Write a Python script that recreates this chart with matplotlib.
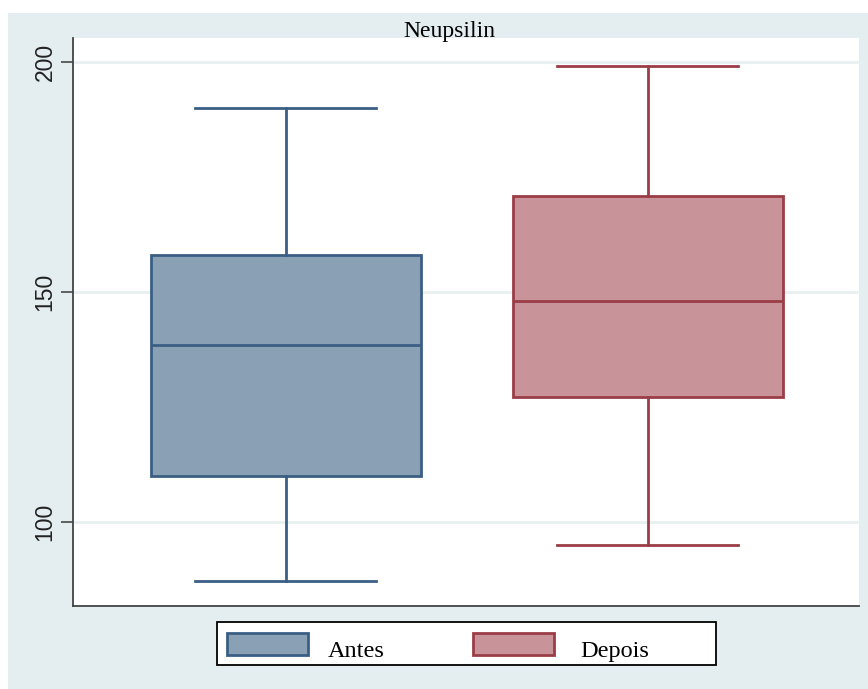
import matplotlib
matplotlib.use('Agg')
import matplotlib.pyplot as plt
from matplotlib.patches import Rectangle

# Neupsilin scores before / after (box summary values)
groups = ['Antes', 'Depois']
whislo = [87.0, 95.0]
q1 = [110.0, 127.0]
med = [138.5, 148.0]
q3 = [158.0, 170.8]
whishi = [190.0, 199.0]
yticks = [100, 150, 200]

fills = ['#8aa0b4', '#c8949a']
edges = ['#3b5f84', '#9b3d48']

W, H = 868, 689


def fx(px):
    return px / W


def fy(py):
    return 1 - py / H


fig = plt.figure(figsize=(8.68, 6.89), dpi=100)
fig.patch.set_facecolor('white')
# light background panel behind the plot
fig.patches.append(Rectangle((fx(8), 0), 1, fy(13), transform=fig.transFigure,
                             facecolor='#e4edef', edgecolor='none', zorder=-10))

ax = fig.add_axes([0.0845, 0.1205, 0.9055, 0.8243])
ax.set_facecolor('white')

stats = []
for i, g in enumerate(groups):
    stats.append(dict(label=g, whislo=whislo[i], q1=q1[i], med=med[i], q3=q3[i],
                      whishi=whishi[i], fliers=[]))

bp = ax.bxp(stats, positions=[1, 2], widths=0.746, patch_artist=True,
            showfliers=False, manage_ticks=False)
for i in range(2):
    bp['boxes'][i].set(facecolor=fills[i], edgecolor=edges[i], linewidth=2)
    bp['medians'][i].set(color=edges[i], linewidth=2)
    for ln in bp['whiskers'][2 * i:2 * i + 2]:
        ln.set(color=edges[i], linewidth=2)
    for ln in bp['caps'][2 * i:2 * i + 2]:
        ln.set(color=edges[i], linewidth=2)
        x = ln.get_xdata()
        c = (x[0] + x[1]) / 2
        ln.set_xdata([c - 0.25, c + 0.25])

ax.set_xlim(0.4133, 2.5845)
ax.set_ylim(81.67, 205.15)
ax.set_yticks(yticks)
ax.set_yticklabels([str(t) for t in yticks], rotation=90, va='center',
                   fontsize=16.5, family='Liberation Sans', color='#222222')
ax.set_xticks([])
ax.tick_params(axis='y', length=9, width=1.3, color='#555555', pad=3)
ax.yaxis.grid(True, color='#e9f0f0', linewidth=2)
ax.set_axisbelow(True)

for s in ['top', 'right']:
    ax.spines[s].set_visible(False)
for s in ['left', 'bottom']:
    ax.spines[s].set_color('#444444')
    ax.spines[s].set_linewidth(1.3)

fig.text(fx(449), fy(36.5), 'Neupsilin', ha='center', va='baseline',
         fontsize=17, family='Liberation Serif', color='black')

# legend box drawn by hand: frame, colour keys and labels
fig.patches.append(Rectangle((fx(217), fy(665)), fx(716) - fx(217), fy(622) - fy(665),
                             transform=fig.transFigure, facecolor='white',
                             edgecolor='black', linewidth=1.3))
key_x = [227, 473]
text_x = [328, 580]
for i, g in enumerate(groups):
    fig.patches.append(Rectangle((fx(key_x[i]), fy(655)), 81 / W, 22 / H,
                                 transform=fig.transFigure, facecolor=fills[i],
                                 edgecolor=edges[i], linewidth=2))
    fig.text(fx(text_x[i]), fy(657), g, ha='left', va='baseline',
             fontsize=17.5, family='Liberation Serif', color='black')

fig.savefig('out.png', dpi=100)
